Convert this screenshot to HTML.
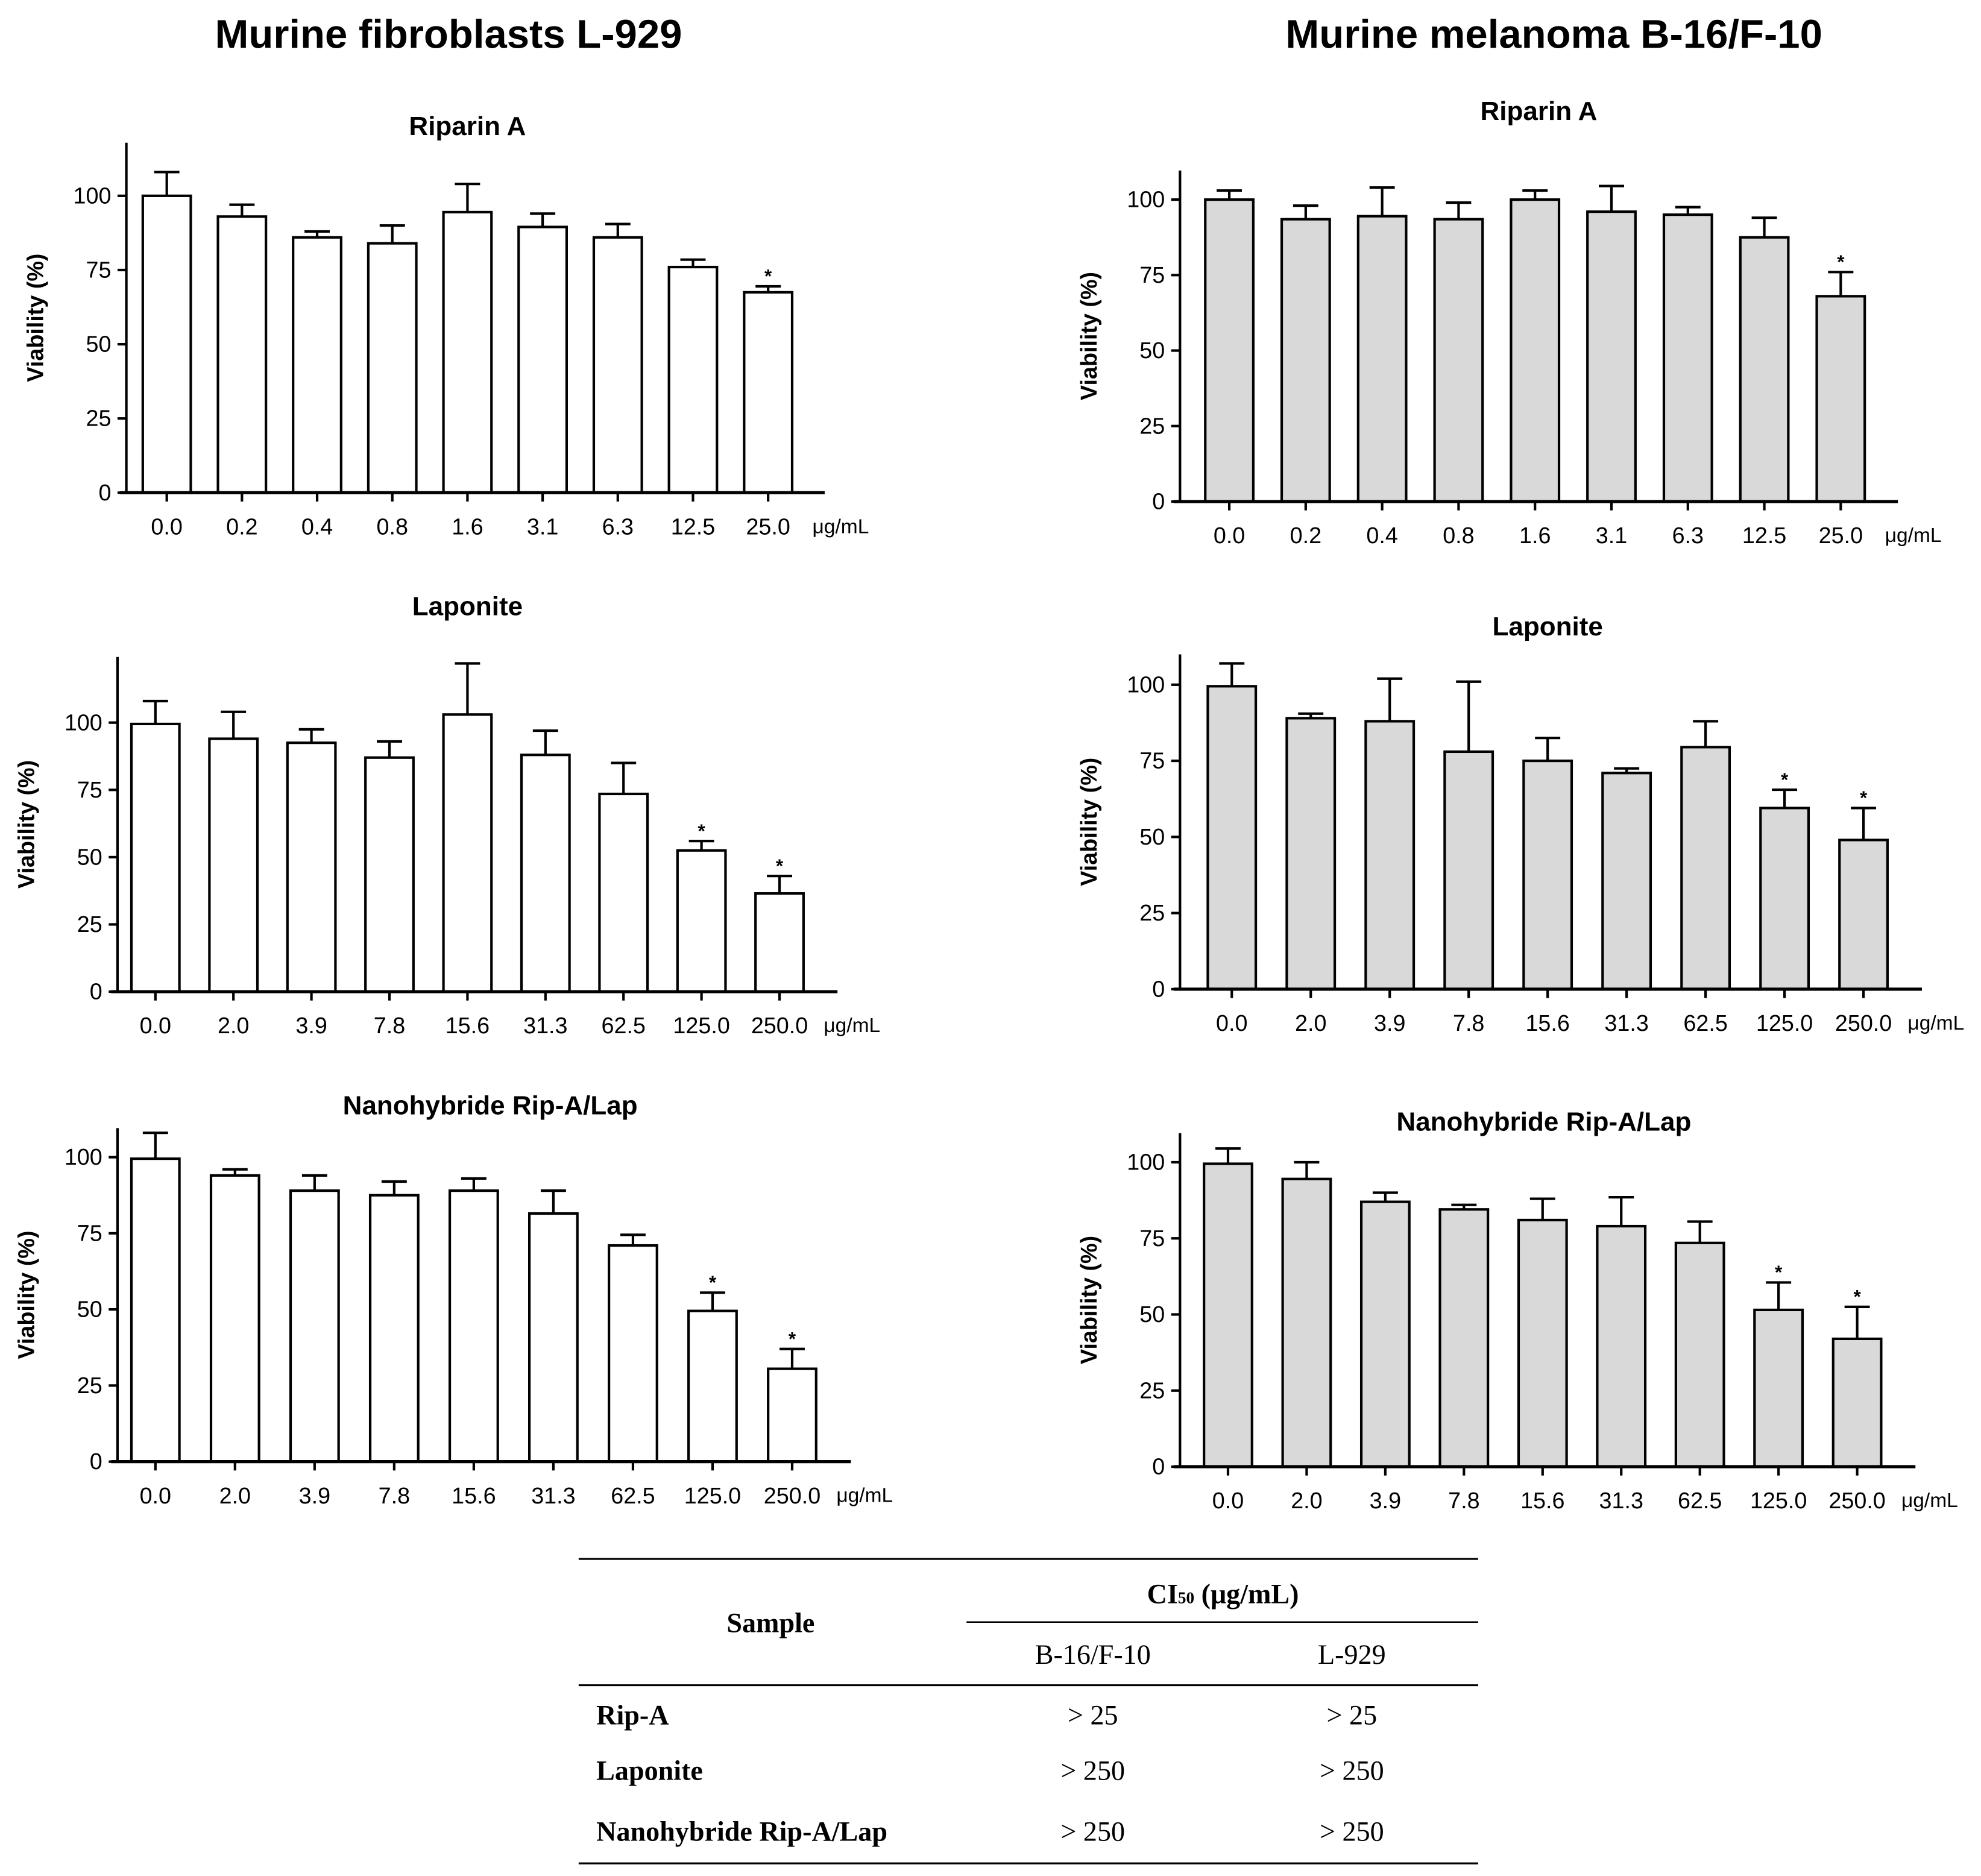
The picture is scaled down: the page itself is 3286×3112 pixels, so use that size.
<!DOCTYPE html>
<html><head><meta charset="utf-8"><style>
html,body{margin:0;padding:0;background:#fff;}
svg{display:block;}
</style></head><body>
<svg id="fig" width="3286" height="3112" viewBox="0 0 1568 1485" xmlns="http://www.w3.org/2000/svg" font-family="Liberation Sans, Arial, sans-serif">
<rect width="1568" height="1485" fill="#fff"/>
<text x="355" y="38" font-size="32" font-weight="bold" text-anchor="middle">Murine fibroblasts L-929</text>
<text x="1230" y="38" font-size="32" font-weight="bold" text-anchor="middle">Murine melanoma B-16/F-10</text>
<g id="charts"></g>
<g font-family="Liberation Serif, Times New Roman, serif" font-size="22">
<line x1="458" y1="1234" x2="1170" y2="1234" stroke="#000" stroke-width="1.5"/>
<line x1="765" y1="1284" x2="1170" y2="1284" stroke="#000" stroke-width="1.2"/>
<line x1="458" y1="1334" x2="1170" y2="1334" stroke="#000" stroke-width="1.5"/>
<line x1="458" y1="1475" x2="1170" y2="1475" stroke="#000" stroke-width="1.5"/>
<text x="610" y="1292" font-weight="bold" text-anchor="middle">Sample</text>
<text x="968" y="1269" font-weight="bold" text-anchor="middle">CI<tspan font-size="13">50</tspan> (μg/mL)</text>
<text x="865" y="1317" text-anchor="middle">B-16/F-10</text>
<text x="1070" y="1317" text-anchor="middle">L-929</text>
<text x="472" y="1365" font-weight="bold">Rip-A</text>
<text x="865" y="1365" text-anchor="middle">&gt; 25</text>
<text x="1070" y="1365" text-anchor="middle">&gt; 25</text>
<text x="472" y="1409" font-weight="bold">Laponite</text>
<text x="865" y="1409" text-anchor="middle">&gt; 250</text>
<text x="1070" y="1409" text-anchor="middle">&gt; 250</text>
<text x="472" y="1457" font-weight="bold">Nanohybride Rip-A/Lap</text>
<text x="865" y="1457" text-anchor="middle">&gt; 250</text>
<text x="1070" y="1457" text-anchor="middle">&gt; 250</text>
</g>
</svg>
<script>
const catRip = ["0.0","0.2","0.4","0.8","1.6","3.1","6.3","12.5","25.0"];
const catLap = ["0.0","2.0","3.9","7.8","15.6","31.3","62.5","125.0","250.0"];
const yTicks = [0,25,50,75,100];
const l929RipMean = [100,93,86,84,94.5,89.5,86,76,67.5];
const l929RipErr = [108,97,88,90,104,94,90.5,78.5,69.5];
const l929RipSig = [0,0,0,0,0,0,0,0,1];
const b16RipMean = [100,93.5,94.5,93.5,100,96,95,87.5,68];
const b16RipErr = [103,98,104,99,103,104.5,97.5,94,76];
const b16RipSig = [0,0,0,0,0,0,0,0,1];
const l929LapMean = [99.5,94,92.5,87,103,88,73.5,52.5,36.5];
const l929LapErr = [108,104,97.5,93,122,97,85,56,43];
const l929LapSig = [0,0,0,0,0,0,0,1,1];
const b16LapMean = [99.5,89,88,78,75,71,79.5,59.5,49];
const b16LapErr = [107,90.5,102,101,82.5,72.5,88,65.5,59.5];
const b16LapSig = [0,0,0,0,0,0,0,1,1];
const l929NanoMean = [99.5,94,89,87.5,89,81.5,71,49.5,30.5];
const l929NanoErr = [108,96,94,92,93,89,74.5,55.5,37];
const l929NanoSig = [0,0,0,0,0,0,0,1,1];
const b16NanoMean = [99.5,94.5,87,84.5,81,79,73.5,51.5,42];
const b16NanoErr = [104.5,100,90,86,88,88.5,80.5,60.5,52.5];
const b16NanoSig = [0,0,0,0,0,0,0,1,1];

const NS="http://www.w3.org/2000/svg";
const root=document.getElementById('charts');
function mk(tag,attrs,parent,text){const e=document.createElementNS(NS,tag);for(const k in attrs)e.setAttribute(k,attrs[k]);if(text!==undefined)e.textContent=text;parent.appendChild(e);return e;}

function chart(cfg){
  const g=mk('g',{},root);
  
  
  const y=v=>cfg.y0-(v/100)*(cfg.y0-cfg.y100);
  const x=i=>cfg.x0+i*cfg.dx;
  const t=mk('text',{x:cfg.tx,y:cfg.ty,'font-size':21,'font-weight':'bold','text-anchor':'middle'},g,cfg.title);
  
  
  const at=mk('text',{transform:`translate(${cfg.ax-66},${(cfg.y0+cfg.top)/2}) rotate(-90)`,'font-size':18,'font-weight':'bold','text-anchor':'middle'},g,'Viability  (%)');
  
  
  cfg.mean.forEach((m,i)=>{
    const cx=x(i),w=38;
    const eb=mk('line',{x1:cx,x2:cx,y1:y(m),y2:y(cfg.err[i]),stroke:'#000','stroke-width':2},g);
    
    
    const cap=mk('line',{x1:cx-10,x2:cx+10,y1:y(cfg.err[i]),y2:y(cfg.err[i]),stroke:'#000','stroke-width':2},g);
    
    
    const r=mk('rect',{x:cx-w/2,y:y(m),width:w,height:cfg.y0-y(m),fill:cfg.fill,stroke:'#000','stroke-width':2},g);
    
    
    const tk=mk('line',{x1:cx,x2:cx,y1:cfg.y0,y2:cfg.y0+7,stroke:'#000','stroke-width':2},g);
    
    
    const lb=mk('text',{x:cx,y:cfg.y0+33,'font-size':18,'text-anchor':'middle'},g,cfg.cats[i]);
    
    
    if(cfg.sig[i]){
      const s=mk('text',{x:cx,y:y(cfg.err[i])-3,'font-size':15,'font-weight':'bold','text-anchor':'middle'},g,'*');
      
      
    }
  });
  const u=mk('text',{x:x(cfg.mean.length-1)+35,y:cfg.y0+32,'font-size':16},g,'μg/mL');
  
  
  const ya=mk('line',{x1:cfg.ax,x2:cfg.ax,y1:cfg.top,y2:cfg.y0,stroke:'#000','stroke-width':2},g);
  
  
  const xa=mk('line',{x1:cfg.ax-5,x2:x(cfg.mean.length-1)+cfg.dx/2+15,y1:cfg.y0,y2:cfg.y0,stroke:'#000','stroke-width':2.5},g);
  
  
  yTicks.forEach(v=>{
    const tl=mk('line',{x1:cfg.ax-7,x2:cfg.ax,y1:y(v),y2:y(v),stroke:'#000','stroke-width':2},g);
    
    
    const tt=mk('text',{x:cfg.ax-12,y:y(v)+6,'font-size':18,'text-anchor':'end'},g,String(v));
    
    
  });
}
chart({name:'chart-l929-riparin',title:'Riparin A',tx:370,ty:107,ax:100,top:113,y0:390,y100:155,x0:132,dx:59.5,cats:catRip,mean:l929RipMean,err:l929RipErr,sig:l929RipSig,fill:'#fff'});
chart({name:'chart-b16-riparin',title:'Riparin A',tx:1218,ty:95,ax:934,top:135,y0:397,y100:158,x0:973,dx:60.5,cats:catRip,mean:b16RipMean,err:b16RipErr,sig:b16RipSig,fill:'#d9d9d9'});
chart({name:'chart-l929-laponite',title:'Laponite',tx:370,ty:487,ax:93,top:520,y0:785,y100:572,x0:123,dx:61.75,cats:catLap,mean:l929LapMean,err:l929LapErr,sig:l929LapSig,fill:'#fff'});
chart({name:'chart-b16-laponite',title:'Laponite',tx:1225,ty:503,ax:934,top:518,y0:783,y100:542,x0:975,dx:62.5,cats:catLap,mean:b16LapMean,err:b16LapErr,sig:b16LapSig,fill:'#d9d9d9'});
chart({name:'chart-l929-nanohybride',title:'Nanohybride Rip-A/Lap',tx:388,ty:882,ax:93,top:893,y0:1157,y100:916,x0:123,dx:63,cats:catLap,mean:l929NanoMean,err:l929NanoErr,sig:l929NanoSig,fill:'#fff'});
chart({name:'chart-b16-nanohybride',title:'Nanohybride Rip-A/Lap',tx:1222,ty:895,ax:934,top:897,y0:1161,y100:920,x0:972,dx:62.25,cats:catLap,mean:b16NanoMean,err:b16NanoErr,sig:b16NanoSig,fill:'#d9d9d9'});
</script>
</body></html>
